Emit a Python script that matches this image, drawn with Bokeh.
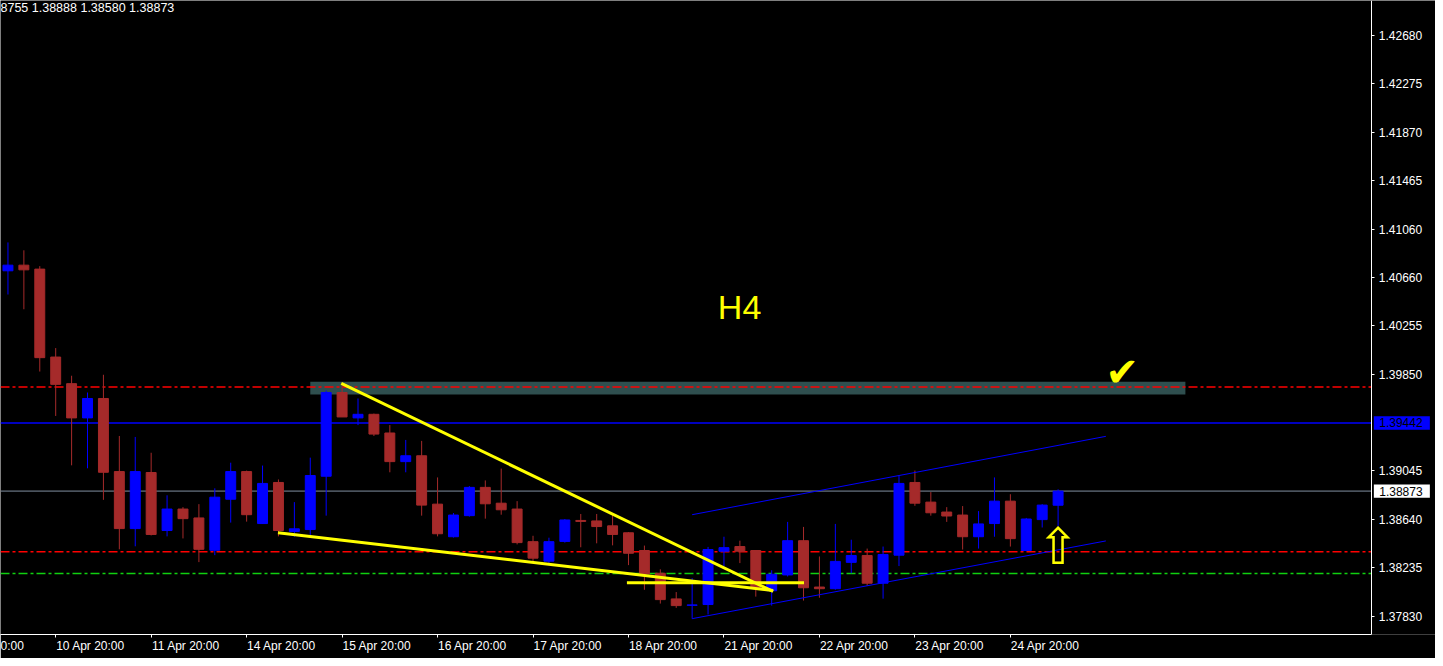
from bokeh.plotting import figure
from bokeh.models import ColumnDataSource, FixedTicker, PrintfTickFormatter, Range1d, LinearAxis
from bokeh.core.properties import value
from bokeh.embed import file_html
from bokeh.resources import INLINE

# ---------------- data ----------------
days = ["10 Apr", "11 Apr", "14 Apr", "15 Apr", "16 Apr", "17 Apr", "18 Apr",
        "21 Apr", "22 Apr", "23 Apr", "24 Apr", "25 Apr"]
hours = ["00:00", "04:00", "08:00", "12:00", "16:00", "20:00"]

opens = [1.40712, 1.40759, 1.40726, 1.39992, 1.39770, 1.39484, 1.39646, 1.39036, 1.38560, 1.39028,
         1.38544, 1.38723, 1.38649, 1.38379, 1.38805, 1.39036, 1.38602, 1.38945, 1.38536, 1.38552,
         1.38997, 1.39696, 1.39484, 1.39514, 1.39358, 1.39119, 1.39168, 1.38764, 1.38492, 1.38668,
         1.38904, 1.38772, 1.38723, 1.38451, 1.38288, 1.38453, 1.38628, 1.38624, 1.38583, 1.38525,
         1.38377, 1.38187, 1.37973, 1.37919, 1.37926, 1.38371, 1.38410, 1.38377, 1.38041, 1.38173,
         1.38459, 1.38072, 1.38058, 1.38278, 1.38335, 1.38104, 1.38338, 1.38945, 1.38781, 1.38698,
         1.38673, 1.38492, 1.38602, 1.38789, 1.38377, 1.38635, 1.38755]
highs = [1.40949, 1.40883, 1.40751, 1.40067, 1.39836, 1.39696, 1.39844, 1.39333, 1.39325, 1.39193,
         1.38838, 1.38739, 1.38764, 1.38896, 1.39110, 1.39044, 1.39086, 1.38970, 1.38781, 1.39152,
         1.39712, 1.39767, 1.39646, 1.39520, 1.39424, 1.39300, 1.39292, 1.38987, 1.38690, 1.38915,
         1.38962, 1.39061, 1.38789, 1.38500, 1.38484, 1.38640, 1.38682, 1.38682, 1.38673, 1.38530,
         1.38418, 1.38220, 1.38030, 1.38146, 1.38407, 1.38492, 1.38459, 1.38380, 1.38212, 1.38616,
         1.38574, 1.38327, 1.38599, 1.38467, 1.38393, 1.38410, 1.39003, 1.39044, 1.38865, 1.38739,
         1.38748, 1.38706, 1.38987, 1.38847, 1.38649, 1.38764, 1.38888]
lows = [1.40514, 1.40391, 1.39871, 1.39500, 1.39088, 1.39063, 1.38800, 1.38387, 1.38412, 1.38503,
        1.38495, 1.38478, 1.38280, 1.38338, 1.38610, 1.38618, 1.38599, 1.38495, 1.38492, 1.38498,
        1.38668, 1.39492, 1.39424, 1.39333, 1.39030, 1.39030, 1.38668, 1.38495, 1.38485, 1.38660,
        1.38643, 1.38676, 1.38428, 1.38288, 1.38269, 1.38443, 1.38404, 1.38437, 1.38420, 1.38255,
        1.38049, 1.37934, 1.37898, 1.37808, 1.37843, 1.38245, 1.38272, 1.37992, 1.37917, 1.38160,
        1.37959, 1.37983, 1.38050, 1.38187, 1.38082, 1.37975, 1.38247, 1.38750, 1.38668, 1.38616,
        1.38385, 1.38393, 1.38492, 1.38410, 1.38377, 1.38569, 1.38580]
closes = [1.40759, 1.40720, 1.39987, 1.39764, 1.39484, 1.39646, 1.39030, 1.38560, 1.39036, 1.38511,
          1.38723, 1.38643, 1.38387, 1.38822, 1.39036, 1.38676, 1.38937, 1.38544, 1.38558, 1.39003,
          1.39696, 1.39492, 1.39514, 1.39349, 1.39119, 1.39168, 1.38756, 1.38517, 1.38673, 1.38904,
          1.38767, 1.38717, 1.38443, 1.38313, 1.38451, 1.38632, 1.38620, 1.38577, 1.38511, 1.38354,
          1.38181, 1.37967, 1.37917, 1.37923, 1.38385, 1.38401, 1.38371, 1.38063, 1.38179, 1.38459,
          1.38066, 1.38058, 1.38286, 1.38335, 1.38104, 1.38344, 1.38937, 1.38772, 1.38692, 1.38665,
          1.38492, 1.38599, 1.38789, 1.38476, 1.38640, 1.38756, 1.38873]

price_ticks = [1.37830, 1.38235, 1.38640, 1.39045, 1.39850, 1.40255, 1.40660,
               1.41060, 1.41465, 1.41870, 1.42275, 1.42680]

red_levels = [1.39743, 1.38366]
green_levels = [1.38185]
blue_level = 1.39442
bid_level = 1.38873
zone_bars = [19, 74]
zone_prices = [1.39679, 1.39786]
channel_bars = [43, 69]
channel_upper = [1.38676, 1.39330]
channel_lower = [1.37808, 1.38457]
yellow_x0 = [20.95, 16.97, 38.9]
yellow_y0 = [1.39772, 1.38525, 1.38108]
yellow_x1 = [48.09, 48.09, 50.03]
yellow_y1 = [1.38035, 1.38043, 1.38108]
tf_label = "H4"
ohlc_text = "8755 1.38888 1.38580 1.38873"
cut_time_label = "0:00"

# ---------------- derived ----------------
times = [f"{d} {h}" for d in days for h in hours][2:2 + len(opens)]
idx = list(range(len(opens)))
colors = ["#0000FF" if c > o else "#A52A2A" for o, c in zip(opens, closes)]
tops = [max(o, c) for o, c in zip(opens, closes)]
bots = [min(o, c) for o, c in zip(opens, closes)]
src = ColumnDataSource(dict(x=idx, high=highs, low=lows, top=tops, bottom=bots, color=colors))

tick_idx = [i for i, t in enumerate(times) if t.endswith("20:00")]

FONT = "Liberation Sans"
FW, FH = 1435, 634
X0, X1 = -0.46875, 89.71875       # frame spans whole width
AXIS_X = 85.71875                 # price scale position
Y0, Y1 = 1.376758, 1.429685
PXB = FW / (X1 - X0)              # px per bar
PXP = FH / (Y1 - Y0)              # px per price unit

LABEL_SHIFT = 2.1875              # half a date label, in bars (labels start at tick)
label_ticks = [i + LABEL_SHIFT for i in tick_idx]
label_over = {i + LABEL_SHIFT: times[i] for i in tick_idx}
cut_tick = 0.25
label_ticks = [cut_tick] + label_ticks
label_over[cut_tick] = cut_time_label

p = figure(frame_width=FW, frame_height=FH,
           x_range=Range1d(X0, X1), y_range=Range1d(Y0, Y1),
           output_backend="svg", toolbar_location=None,
           y_axis_location="right", x_axis_location="below",
           background_fill_color="black", border_fill_color="black",
           outline_line_color=None,
           min_border_left=0, min_border_top=0, min_border_right=0, min_border_bottom=24)
p.xgrid.visible = False
p.ygrid.visible = False

# price axis, placed at the chart's right edge
ya = p.yaxis[0]
ya.fixed_location = AXIS_X
ya.ticker = FixedTicker(ticks=price_ticks)
ya.formatter = PrintfTickFormatter(format="%.5f")
ya.axis_line_color = "white"
ya.major_tick_line_color = "white"
ya.minor_tick_line_color = None
ya.major_tick_out = 3
ya.major_tick_in = 0
ya.major_label_standoff = 4
ya.major_label_text_color = "white"
ya.major_label_text_font = FONT
ya.major_label_text_font_size = "12px"

# time axis: tick marks
xa = p.xaxis[0]
xa.bounds = (X0, AXIS_X)
xa.ticker = FixedTicker(ticks=tick_idx)
xa.major_label_overrides = {i: "" for i in tick_idx}
xa.major_label_text_font_size = "0px"
xa.major_label_standoff = 0
xa.axis_line_color = "white"
xa.major_tick_line_color = "white"
xa.minor_tick_line_color = None
xa.major_tick_out = 3
xa.major_tick_in = 0

# time axis: labels starting at the tick marks
xb = LinearAxis(ticker=FixedTicker(ticks=label_ticks), major_label_overrides=label_over,
                axis_line_color=None, major_tick_line_color=None, minor_tick_line_color=None,
                major_tick_out=0, major_tick_in=0, major_label_standoff=1,
                major_label_text_color="white", major_label_text_font=FONT,
                major_label_text_font_size="12px")
p.add_layout(xb, "below")

# zone rectangle
p.quad(left=[zone_bars[0]], right=[zone_bars[1]], bottom=[zone_prices[0]], top=[zone_prices[1]],
       fill_color="#2F4F4F", line_color=None)

# horizontal levels (up to the price scale)
def hline(levels, color, dash="solid", width=1.5):
    n = len(levels)
    p.segment(x0=[X0] * n, x1=[AXIS_X] * n, y0=levels, y1=levels,
              line_color=color, line_width=width, line_dash=dash)

hline(red_levels, "#FF0000", "9 3 3 3")
hline(green_levels, "#10D010", "9 3 3 3")
hline([blue_level], "#0000FF")
hline([bid_level], "#8090A0", width=1)

# candles
p.segment(x0="x", y0="low", x1="x", y1="high", line_color="color", line_width=1, source=src)
p.vbar(x="x", width=10 / 16, top="top", bottom="bottom", fill_color="color",
       line_color="color", line_width=1, source=src)

# channel
p.segment(x0=[channel_bars[0]] * 2, y0=[channel_upper[0], channel_lower[0]],
          x1=[channel_bars[1]] * 2, y1=[channel_upper[1], channel_lower[1]],
          line_color="#0000FF", line_width=1)

# yellow trend lines
p.segment(x0=yellow_x0, y0=yellow_y0, x1=yellow_x1, y1=yellow_y1,
          line_color="#FFFF00", line_width=3)

# texts / symbols
p.text(x=[45.98], y=[1.40413], text=[tf_label], text_color="#FFFF00",
       text_font=value(FONT), text_font_size=value("34px"),
       text_align="center", text_baseline="middle")
p.text(x=[70.03], y=[1.39869], text=["\u2714"], text_color="#FFFF00",
       text_font=value("DejaVu Sans"), text_font_size=value("40px"),
       text_align="center", text_baseline="middle")
p.text(x=[66], y=[1.38410], text=["\u21e7"], text_color="#FFFF00",
       text_font=value("DejaVu Sans"), text_font_size=value("50px"),
       text_align="center", text_baseline="middle")
p.text(x=[X0], y=[Y1], text=[ohlc_text], text_color="white",
       text_font=value(FONT), text_font_size=value("12.5px"),
       text_align="left", text_baseline="top")

# price tags on the price scale
tag_half = 6.7 / PXP
tag_l = AXIS_X + 2 / PXB
tag_r = AXIS_X + 58 / PXB
for lvl, bg in [(blue_level, "#0000FF"), (bid_level, "white")]:
    p.quad(left=[tag_l], right=[tag_r], bottom=[lvl - tag_half], top=[lvl + tag_half],
           fill_color=bg, line_color=None)
    p.text(x=[AXIS_X + 7.4 / PXB], y=[lvl], text=[f"{lvl:.5f}"], text_color="black",
           text_font=value(FONT), text_font_size=value("12px"),
           text_align="left", text_baseline="middle")

open("out.html", "w").write(file_html(p, INLINE))
